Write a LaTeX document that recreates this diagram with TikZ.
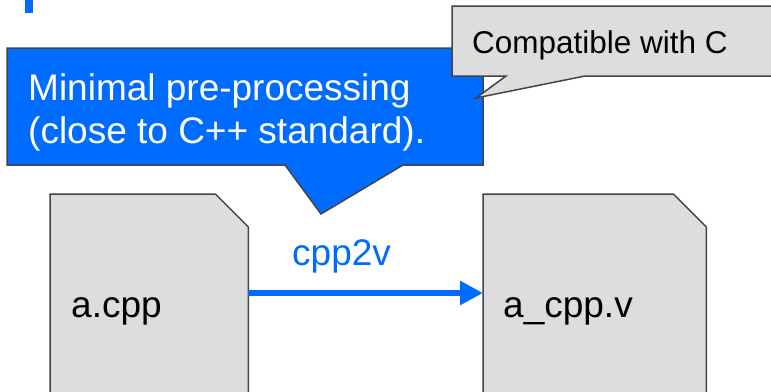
\documentclass[tikz,border=0pt]{standalone}
\usepackage{fontspec}
\setmainfont{Liberation Sans}
\usetikzlibrary{arrows.meta}
\definecolor{accent}{RGB}{0,108,255}
\definecolor{paper}{RGB}{221,221,221}
\definecolor{edge}{RGB}{68,68,68}
\tikzset{
  outline/.style={draw=edge, line width=1.5pt, line join=miter},
  docframe/.style={inner sep=0pt, minimum width=198pt, minimum height=230pt, anchor=north west},
  bigtext/.style={font=\fontsize{37}{43}\selectfont, inner sep=0pt},
  smalltext/.style={font=\fontsize{31.5}{37}\selectfont, inner sep=0pt},
}
\begin{document}
\begin{tikzpicture}[x=1pt,y=-1pt]
  \useasboundingbox (0,0) rectangle (771,391);
  \clip (0,0) rectangle (771,391);

  % small accent mark at the top
  \fill[accent] (25,-2) rectangle (33,13);

  % source and generated files (bottom part runs off the page)
  \node[docframe] (srcdoc) at (50,194) {};
  \node[docframe, minimum width=223pt] (outdoc) at (483,194) {};
  \draw[outline, fill=paper] (srcdoc.south west) -- (srcdoc.north west)
     -- ([xshift=-33pt]srcdoc.north east) -- ([yshift=-33pt]srcdoc.north east)
     -- (srcdoc.south east);
  \draw[outline, fill=paper] (outdoc.south west) -- (outdoc.north west)
     -- ([xshift=-33pt]outdoc.north east) -- ([yshift=-33pt]outdoc.north east)
     -- (outdoc.south east);
  \node[bigtext, anchor=base west] (srcname) at (71,317) {a.cpp};
  \node[bigtext, anchor=base west] (outname) at (503,317) {a\_cpp.v};

  % conversion step
  \coordinate (flow) at (0,293);
  \draw[accent, line width=6pt, -{Triangle[length=23pt, width=23pt]}]
     (srcdoc.east |- flow) -- (outdoc.west |- flow);
  \node[bigtext, text=accent, anchor=base west] (tool) at (292,265) {cpp2v};

  % blue callout
  \draw[outline, fill=accent] (7,48) -- (483,48) -- (483,165) -- (403,165)
     -- (321,214) -- (285,165) -- (7,165) -- cycle;
  \node[bigtext, text=white, anchor=base west] (note1) at (28,100) {Minimal pre-processing};
  \node[bigtext, text=white, anchor=base west] (note2) at (28,143) {(close to C++ standard).};

  % grey callout
  \draw[outline, fill=paper] (452,6) -- (780,6) -- (780,76) -- (585,76)
     -- (476,98) -- (506,76) -- (452,76) -- cycle;
  \node[smalltext, anchor=base west] (compat) at (472,53) {Compatible with C};
\end{tikzpicture}
\end{document}
